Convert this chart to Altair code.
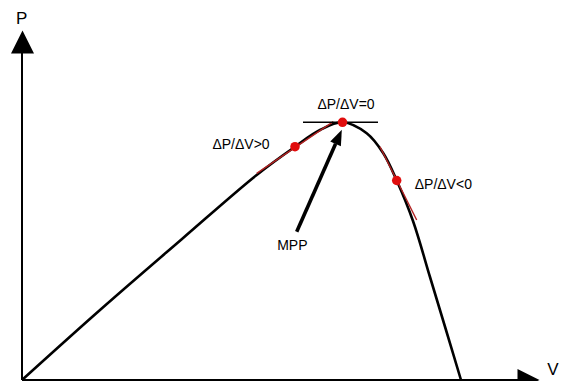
import altair as alt
import pandas as pd

# P-V curve (V, P) in chart units
curve_v = [0, 78, 160, 234.7, 273, 298, 320.5, 344.7, 361.3, 374.7, 391, 408, 424, 439]
curve_p = [0, 70, 141, 205, 233.3, 250, 257.7, 246.7, 226.7, 199.5, 159, 103, 50, 0]

# operating points
pt_v = [273, 320.5, 374.7]
pt_p = [233.3, 257.7, 199.5]

# tangents
tan_id = ["left", "left", "mpp", "mpp", "right", "right"]
tan_v = [234.7, 311.3, 281, 356, 358, 394.7]
tan_p = [206.7, 258.3, 257.7, 257.7, 233.3, 160]
tan_col = ["#b22222", "#b22222", "#000000", "#000000", "#b22222", "#b22222"]

# labels
lab_text = ["ΔP/ΔV=0", "ΔP/ΔV>0", "ΔP/ΔV<0", "MPP"]
lab_v = [324, 219, 421.3, 270.3]
lab_p = [274.7, 234.7, 195, 134]

axis_lab_text = ["P", "V"]
axis_lab_v = [-0.3, 531]
axis_lab_p = [361.3, 10]

# axes
axis_id = ["y", "y", "x", "x"]
axis_v = [0, 0, 0, 508]
axis_p = [0, 338, 0, 0]

# MPP arrow
arrow_v = [274.7, 313.6]
arrow_p = [148.3, 236.3]

xs = alt.Scale(domain=[-14, 538], nice=False, zero=False)
ys = alt.Scale(domain=[-1, 372], nice=False, zero=False)

def X(f="v"):
    return alt.X(f"{f}:Q", scale=xs, axis=None)

def Y(f="p"):
    return alt.Y(f"{f}:Q", scale=ys, axis=None)

curve = alt.Chart(pd.DataFrame({"v": curve_v, "p": curve_p})).mark_line(
    color="black", strokeWidth=2.6, interpolate="catmull-rom"
).encode(x=X(), y=Y())

axes = alt.Chart(pd.DataFrame({"id": axis_id, "v": axis_v, "p": axis_p})).mark_line(
    color="black", strokeWidth=2
).encode(x=X(), y=Y(), detail="id:N")

yhead = alt.Chart(pd.DataFrame({"v": [0.5], "p": [338]})).mark_point(
    shape="M0,-1L1,1L-1,1Z", size=529, filled=True, color="black", opacity=1
).encode(x=X(), y=Y())

xhead = alt.Chart(pd.DataFrame({"v": [506.5], "p": [0]})).mark_point(
    shape="M1,0L-1,1L-1,-1Z", size=484, filled=True, color="black", opacity=1
).encode(x=X(), y=Y())

tangents = alt.Chart(pd.DataFrame({"id": tan_id, "v": tan_v, "p": tan_p, "c": tan_col})).mark_line(
    strokeWidth=1.4
).encode(x=X(), y=Y(), detail="id:N", color=alt.Color("c:N", scale=None))

points = alt.Chart(pd.DataFrame({"v": pt_v, "p": pt_p})).mark_point(
    shape="circle", size=90, filled=True, color="#e00d0d", opacity=1
).encode(x=X(), y=Y())

shaft = alt.Chart(pd.DataFrame({"v": arrow_v, "p": arrow_p})).mark_line(
    color="black", strokeWidth=3.6
).encode(x=X(), y=Y())

ahead = alt.Chart(pd.DataFrame({"v": [316.7], "p": [243.1]})).mark_point(
    shape="M0,-1L0.75,1L-0.75,1Z", size=240, filled=True, color="black", opacity=1, angle=24
).encode(x=X(), y=Y())

labels = alt.Chart(pd.DataFrame({"t": lab_text, "v": lab_v, "p": lab_p})).mark_text(
    font="Liberation Sans", fontSize=14, color="black", align="center", baseline="middle"
).encode(x=X(), y=Y(), text="t:N")

axis_labels = alt.Chart(pd.DataFrame({"t": axis_lab_text, "v": axis_lab_v, "p": axis_lab_p})).mark_text(
    font="Liberation Sans", fontSize=17, color="black", align="center", baseline="middle"
).encode(x=X(), y=Y(), text="t:N")

chart = alt.layer(
    axes, yhead, xhead, curve, tangents, points, shaft, ahead, labels, axis_labels
).properties(
    width=552, height=373, padding=0, autosize=alt.AutoSizeParams(type="none"),
    background="white"
).configure_view(stroke=None)

chart.save("out.html", embed_options={"renderer": "svg", "actions": False})
